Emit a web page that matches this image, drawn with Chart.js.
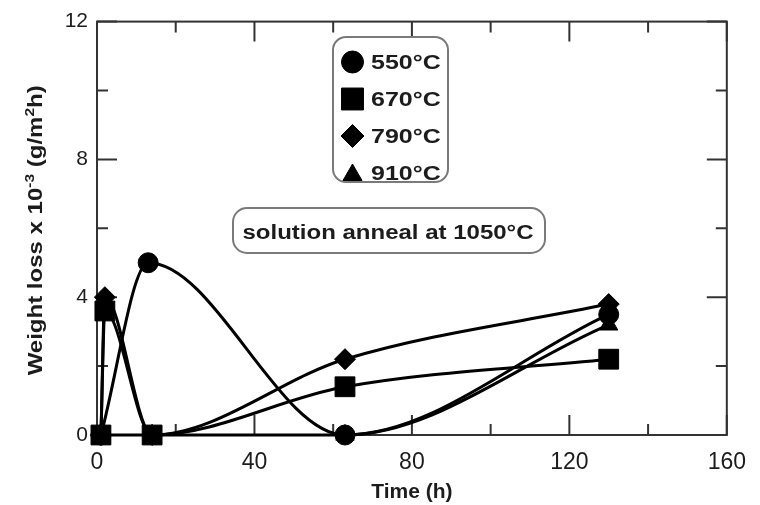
<!DOCTYPE html>
<html>
<head>
<meta charset="utf-8">
<title>Weight loss vs. aging time</title>
<script src="https://cdn.jsdelivr.net/npm/chart.js@4.4.1/dist/chart.umd.min.js"></script>
<style>
  html, body { margin: 0; padding: 0; background: #ffffff; }
  canvas { display: block; }
</style>
</head>
<body>
<canvas id="chart" width="760" height="505"></canvas>
<script>
// Aging temperatures (legend entries)
const seriesLabels = ['550°C', '670°C', '790°C', '910°C'];

// Aging time (h) and weight loss (x10^-3 g/m²h) for each temperature
const hours550 = [1, 13, 63, 130];
const loss550  = [0, 5.0, 0, 3.5];

const hours670 = [1, 2, 14, 63, 130];
const loss670  = [0, 3.6, 0, 1.4, 2.2];

const hours790 = [1, 2, 14, 63, 130];
const loss790  = [0, 4.0, 0, 2.2, 3.8];

const hours910 = [1, 14, 63, 130];
const loss910  = [0, 0, 0, 3.2];

// Axis ticks
const timeTicks  = [0, 40, 80, 120, 160];
const timeMinor  = [20, 60, 100, 140];
const lossTicks  = [0, 4, 8, 12];
const lossMinor  = [2, 6, 10];

const noteText = 'solution anneal at 1050°C';

// Marker appearance per series
const markerStyles = ['circle', 'rect', 'rectRot', 'triangle'];
const markerRadius = [10, 14, 10.5, 10.5];
const legendRadius = [11, 15.5, 11.5, 11];
const drawOrder    = [2, 0, 1, 3];

const FONT = '"Liberation Sans", Arial, Helvetica, sans-serif';
const INK = '#1c1c1c';

const seriesData = [
  [hours550, loss550],
  [hours670, loss670],
  [hours790, loss790],
  [hours910, loss910]
];

const datasets = seriesData.map(([hrs, vals], i) => ({
  label: seriesLabels[i],
  data: hrs.map((h, k) => ({ x: h, y: vals[k] })),
  borderColor: '#000',
  backgroundColor: '#000',
  borderWidth: 3,
  cubicInterpolationMode: 'monotone',
  pointStyle: markerStyles[i],
  pointRadius: markerRadius[i],
  pointBorderWidth: 1,
  pointBorderColor: '#000',
  pointBackgroundColor: '#000',
  clip: false,
  order: drawOrder[i]
}));

function markerAt(ctx, style, r, x, y) {
  ctx.save();
  ctx.fillStyle = '#000';
  ctx.strokeStyle = '#000';
  ctx.lineWidth = 1;
  if (Chart.helpers && Chart.helpers.drawPoint) {
    Chart.helpers.drawPoint(ctx, { pointStyle: style, radius: r, rotation: 0, borderWidth: 1 }, x, y);
  } else {
    ctx.beginPath();
    if (style === 'circle') ctx.arc(x, y, r, 0, Math.PI * 2);
    else if (style === 'rect') { const s = r * Math.SQRT1_2; ctx.rect(x - s, y - s, 2 * s, 2 * s); }
    else if (style === 'rectRot') { ctx.moveTo(x - r, y); ctx.lineTo(x, y - r); ctx.lineTo(x + r, y); ctx.lineTo(x, y + r); ctx.closePath(); }
    else { ctx.moveTo(x, y - r); ctx.lineTo(x + r * 0.866, y + r / 2); ctx.lineTo(x - r * 0.866, y + r / 2); ctx.closePath(); }
    ctx.fill(); ctx.stroke();
  }
  ctx.restore();
}

function roundedBox(ctx, x, y, w, h, r) {
  ctx.beginPath();
  ctx.moveTo(x + r, y);
  ctx.lineTo(x + w - r, y);
  ctx.arcTo(x + w, y, x + w, y + r, r);
  ctx.lineTo(x + w, y + h - r);
  ctx.arcTo(x + w, y + h, x + w - r, y + h, r);
  ctx.lineTo(x + r, y + h);
  ctx.arcTo(x, y + h, x, y + h - r, r);
  ctx.lineTo(x, y + r);
  ctx.arcTo(x, y, x + r, y, r);
  ctx.closePath();
}

// Boxed frame with inward major and minor ticks on all four sides
const framePlugin = {
  id: 'frame',
  beforeDatasetsDraw(chart) {
    const { ctx, chartArea: a, scales: { x, y } } = chart;
    const major = 20, minor = 11;
    ctx.save();
    ctx.strokeStyle = '#333';
    ctx.lineWidth = 2;
    ctx.strokeRect(a.left, a.top, a.right - a.left, a.bottom - a.top);
    ctx.beginPath();
    const xt = (vals, len) => vals.forEach(v => {
      const px = x.getPixelForValue(v);
      ctx.moveTo(px, a.bottom); ctx.lineTo(px, a.bottom - len);
      ctx.moveTo(px, a.top);    ctx.lineTo(px, a.top + len);
    });
    const yt = (vals, len) => vals.forEach(v => {
      const py = y.getPixelForValue(v);
      ctx.moveTo(a.left, py);  ctx.lineTo(a.left + len, py);
      ctx.moveTo(a.right, py); ctx.lineTo(a.right - len, py);
    });
    xt(timeTicks, major); xt(timeMinor, minor);
    yt(lossTicks, major); yt(lossMinor, minor);
    ctx.stroke();
    ctx.restore();
  }
};

// Y-axis title with superscripts, legend box and process note
const textPlugin = {
  id: 'texts',
  afterDraw(chart) {
    const { ctx, chartArea: a } = chart;

    // y-axis title
    const parts = [
      { t: 'Weight loss x 10', sup: false },
      { t: '-3', sup: true },
      { t: ' (g/m', sup: false },
      { t: '2', sup: true },
      { t: 'h)', sup: false }
    ];
    const mainFont = 'bold 20px ' + FONT;
    const supFont = 'bold 13px ' + FONT;
    ctx.save();
    let total = 0;
    parts.forEach(p => { ctx.font = p.sup ? supFont : mainFont; p.w = ctx.measureText(p.t).width; total += p.w; });
    ctx.translate(36, (a.top + a.bottom) / 2 + 2);
    ctx.rotate(-Math.PI / 2);
    ctx.scale(1.2, 1);
    ctx.fillStyle = INK;
    ctx.textBaseline = 'alphabetic';
    ctx.textAlign = 'left';
    let cx = -total / 2;
    parts.forEach(p => {
      ctx.font = p.sup ? supFont : mainFont;
      ctx.fillText(p.t, cx, p.sup ? -2.5 : 5.5);
      cx += p.w;
    });
    ctx.restore();

    // legend
    ctx.save();
    roundedBox(ctx, 333, 37, 115, 145, 13);
    ctx.fillStyle = '#fff';
    ctx.fill();
    ctx.strokeStyle = '#7a7a7a';
    ctx.lineWidth = 2;
    ctx.stroke();
    seriesLabels.forEach((lab, i) => {
      const base = 69 + i * 37;
      markerAt(ctx, markerStyles[i], legendRadius[i], 352.5, base - 7 + (markerStyles[i] === 'triangle' ? 2 : 0));
      ctx.save();
      ctx.translate(371, base);
      ctx.scale(1.25, 1);
      ctx.font = 'bold 20px ' + FONT;
      ctx.fillStyle = INK;
      ctx.textBaseline = 'alphabetic';
      ctx.textAlign = 'left';
      ctx.fillText(lab, 0, 0);
      ctx.restore();
    });
    ctx.restore();

    // note box
    ctx.save();
    roundedBox(ctx, 233, 208, 312, 45, 14);
    ctx.fillStyle = '#fff';
    ctx.fill();
    ctx.strokeStyle = '#7a7a7a';
    ctx.lineWidth = 2;
    ctx.stroke();
    ctx.translate(388, 239);
    ctx.scale(1.2, 1);
    ctx.font = 'bold 20px ' + FONT;
    ctx.fillStyle = INK;
    ctx.textAlign = 'center';
    ctx.textBaseline = 'alphabetic';
    ctx.fillText(noteText, 0, 0);
    ctx.restore();
  }
};

new Chart(document.getElementById('chart').getContext('2d'), {
  type: 'line',
  data: { datasets },
  options: {
    responsive: false,
    animation: false,
    devicePixelRatio: 1,
    layout: { padding: { top: 20, right: 33, bottom: 0, left: 0 } },
    plugins: { legend: { display: false }, tooltip: { enabled: false } },
    scales: {
      x: {
        type: 'linear',
        min: 0,
        max: 160,
        afterBuildTicks: s => { s.ticks = timeTicks.map(v => ({ value: v })); },
        afterFit: s => { s.height = 70; },
        grid: { display: false, drawTicks: false },
        border: { display: false },
        ticks: { padding: 14, color: INK, font: { family: FONT, size: 23 } },
        title: {
          display: true,
          text: 'Time (h)',
          color: INK,
          padding: 0,
          font: { family: FONT, size: 21, weight: 'bold' }
        }
      },
      y: {
        type: 'linear',
        min: 0,
        max: 12,
        afterBuildTicks: s => { s.ticks = lossTicks.map(v => ({ value: v })); },
        afterFit: s => { s.width = 97; },
        grid: { display: false, drawTicks: false },
        border: { display: false },
        ticks: { padding: 9, color: INK, font: { family: FONT, size: 21 } },
        title: { display: false }
      }
    }
  },
  plugins: [framePlugin, textPlugin]
});
</script>
</body>
</html>
